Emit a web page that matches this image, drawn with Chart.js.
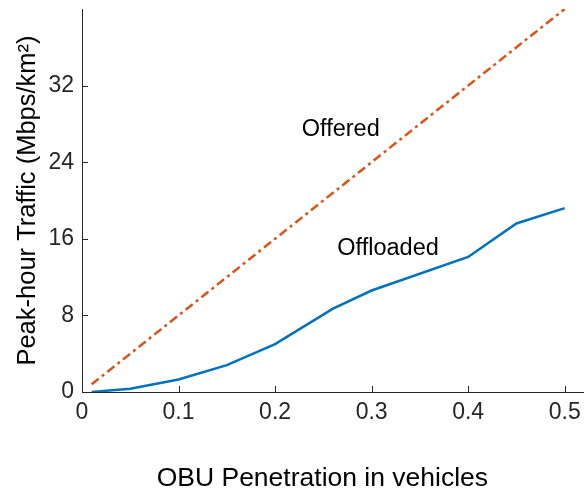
<!DOCTYPE html>
<html>
<head>
<meta charset="utf-8">
<script src="https://cdn.jsdelivr.net/npm/chart.js@4.4.1/dist/chart.umd.min.js"></script>
<style>
  html, body { margin: 0; padding: 0; background: #fff; }
  #wrap { width: 584px; height: 491px; }
</style>
</head>
<body>
<div id="wrap"><canvas id="trafficChart"></canvas></div>
<script>
// values
const offeredX = [0.01, 0.5];
const offeredY = [0.8, 40];

const offloadedX = [0.01, 0.05, 0.1, 0.15, 0.2, 0.26, 0.3, 0.4, 0.45, 0.5];
const offloadedY = [0, 0.35, 1.3, 2.8, 5.0, 8.7, 10.6, 14.1, 17.6, 19.2];

const xTicks = [0, 0.1, 0.2, 0.3, 0.4, 0.5];
const yTicks = [0, 8, 16, 24, 32];

const seriesNames = ["Offered", "Offloaded"];
const xTitle = "OBU Penetration in vehicles";

const FONT = "'Liberation Sans', Arial, Helvetica, sans-serif";
const AXIS = "#262626";

const toPoints = (xs, ys) => xs.map((x, i) => ({ x, y: ys[i] }));

// MATLAB style ticks pointing into the plot, in-plot labels, x title
const matlabBits = {
  id: "matlabBits",
  afterDraw(chart) {
    const { ctx, chartArea, scales } = chart;
    const len = 6;
    ctx.save();
    ctx.strokeStyle = AXIS;
    ctx.lineWidth = 1;
    ctx.beginPath();
    for (const v of xTicks) {
      const px = Math.round(scales.x.getPixelForValue(v)) + 0.5;
      ctx.moveTo(px, chartArea.bottom);
      ctx.lineTo(px, chartArea.bottom - len);
    }
    for (const v of yTicks) {
      const py = Math.round(scales.y.getPixelForValue(v)) + 0.5;
      ctx.moveTo(chartArea.left, py);
      ctx.lineTo(chartArea.left + len, py);
    }
    ctx.stroke();

    ctx.fillStyle = "#000";
    ctx.font = "23.5px " + FONT;
    ctx.textAlign = "center";
    ctx.textBaseline = "middle";
    ctx.fillText(seriesNames[0], scales.x.getPixelForValue(0.268), scales.y.getPixelForValue(27.4));
    ctx.fillText(seriesNames[1], scales.x.getPixelForValue(0.317), scales.y.getPixelForValue(15.0));

    // axis title sits a bit left of the plot centre in the original
    ctx.font = "26.5px " + FONT;
    ctx.fillText(xTitle, scales.x.getPixelForValue(0.249), chart.height - 12);
    ctx.restore();
  }
};

new Chart(document.getElementById("trafficChart"), {
  type: "line",
  data: {
    datasets: [
      {
        label: seriesNames[0],
        data: toPoints(offeredX, offeredY),
        borderColor: "#D95319",
        borderWidth: 2.5,
        borderDash: [9, 4, 3, 4],
        pointRadius: 0,
        tension: 0
      },
      {
        label: seriesNames[1],
        data: toPoints(offloadedX, offloadedY),
        borderColor: "#0072BD",
        borderWidth: 2.5,
        pointRadius: 0,
        tension: 0
      }
    ]
  },
  options: {
    responsive: true,
    maintainAspectRatio: false,
    animation: false,
    layout: { padding: { left: 0, right: 0, top: 9, bottom: 0 } },
    plugins: {
      legend: { display: false },
      tooltip: { enabled: false }
    },
    scales: {
      x: {
        type: "linear",
        min: 0,
        max: 0.52,
        afterBuildTicks: (s) => { s.ticks = xTicks.map(v => ({ value: v })); },
        afterFit: (s) => { s.height = 99; s.paddingLeft = 0; s.paddingRight = 0; },
        grid: { display: false, drawTicks: false },
        border: { display: true, color: AXIS, width: 1 },
        ticks: {
          padding: 7,
          color: AXIS,
          font: { family: FONT, size: 23 },
          maxRotation: 0,
          callback: (v) => v === 0 ? "0" : String(v)
        },
        title: { display: false }
      },
      y: {
        min: 0,
        max: 40,
        afterBuildTicks: (s) => { s.ticks = yTicks.map(v => ({ value: v })); },
        afterFit: (s) => { s.width = 82; s.paddingTop = 0; s.paddingBottom = 0; },
        grid: { display: false, drawTicks: false },
        border: { display: true, color: AXIS, width: 1 },
        ticks: {
          padding: 8,
          color: AXIS,
          font: { family: FONT, size: 23 }
        },
        title: {
          display: true,
          text: "Peak-hour Traffic (Mbps/km²)",
          color: "#000",
          font: { family: FONT, size: 25.5 },
          padding: { top: 13, bottom: 0 }
        }
      }
    }
  },
  plugins: [matlabBits]
});
</script>
</body>
</html>
